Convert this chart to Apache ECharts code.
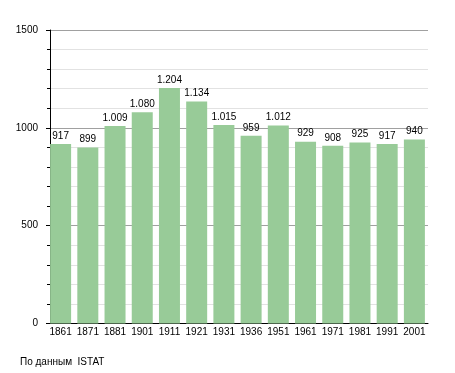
<!DOCTYPE html>
<html><head><meta charset="utf-8">
<script src="https://cdn.jsdelivr.net/npm/echarts@6/dist/echarts.min.js"></script>
<style>html,body{margin:0;padding:0;background:#fff}#c{width:455px;height:373px}</style>
</head><body><div id="c"></div>
<script>
const years = ['1861','1871','1881','1901','1911','1921','1931','1936','1951','1961','1971','1981','1991','2001'];
const population = [917, 899, 1009, 1080, 1204, 1134, 1015, 959, 1012, 929, 908, 925, 917, 940];
const sourceNote = 'По данным  ISTAT';
const fmt = v => { const s = String(v); return s.length > 3 ? s.slice(0, s.length-3) + '.' + s.slice(-3) : s; };
const chart = echarts.init(document.getElementById('c'), null, {renderer:'canvas'});
const font = 'Liberation Sans, Arial, sans-serif';
chart.setOption({
  animation:false,
  backgroundColor:'#fff',
  textStyle:{fontFamily:font},
  graphic:[{type:'text', left:20, top:357, style:{text:sourceNote, font:'10px Liberation Sans, Arial, sans-serif', fill:'#000'}}],
  grid:{left:47, width:381, top:30, height:293.5},
  xAxis:{type:'category', data:years,
    axisLine:{lineStyle:{color:'#000', width:1}},
    axisTick:{show:false},
    axisLabel:{color:'#000', fontSize:10, margin:4, fontFamily:font, interval:0}},
  yAxis:{type:'value', min:0, max:1500, interval:500, offset:-3,
    axisLine:{show:true, lineStyle:{color:'#000', width:1}},
    axisTick:{show:true, length:4, lineStyle:{color:'#000'}},
    minorTick:{show:true, splitNumber:5, length:3, lineStyle:{color:'#000'}},
    axisLabel:{color:'#000', fontSize:10, margin:12, fontFamily:font, formatter:v=>String(v)},
    splitLine:{show:true, lineStyle:{color:'#a0a0a0', width:1}},
    minorSplitLine:{show:true, lineStyle:{color:'#e2e2e2', width:1}}},
  series:[{type:'bar', data:population, barWidth:21,
    itemStyle:{color:'#98cb98'},
    label:{show:true, position:'top', distance:3, color:'#000', fontSize:10, fontFamily:font, formatter:p=>fmt(p.value)}}]
});
</script></body></html>
